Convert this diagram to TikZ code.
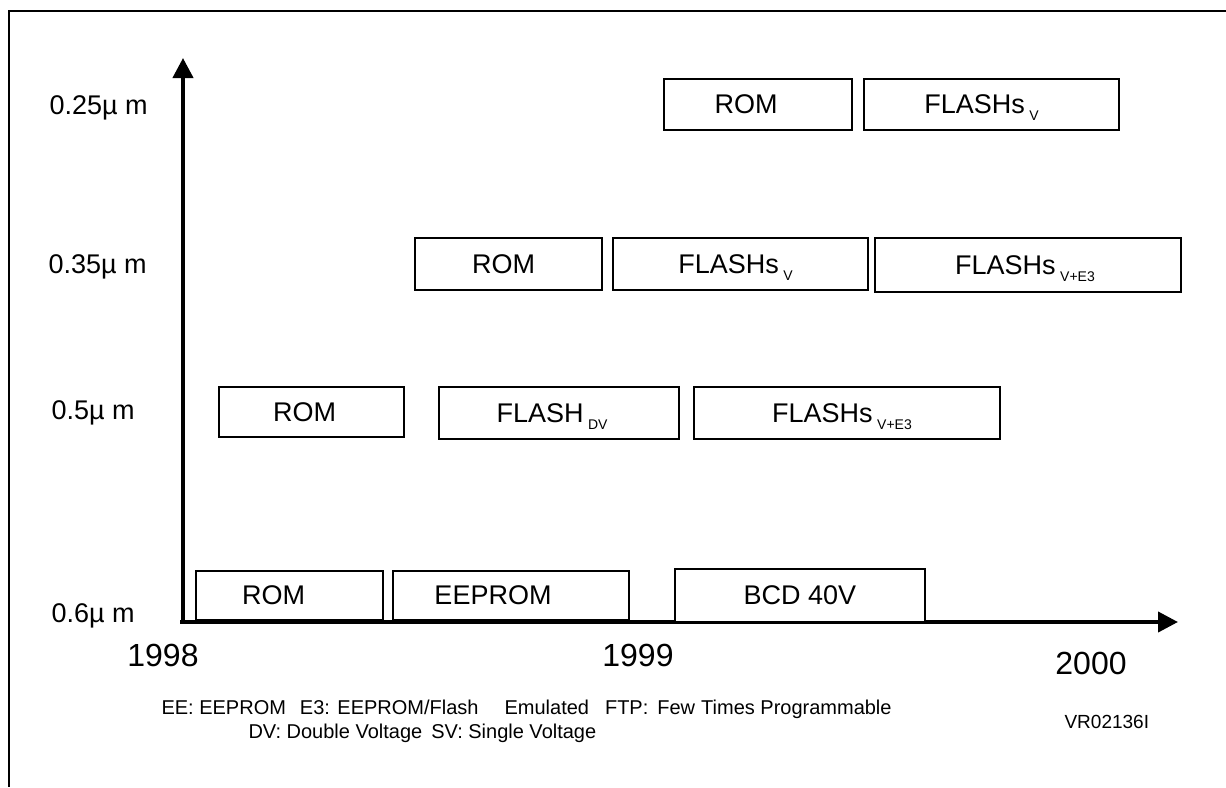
\documentclass[tikz,border=0pt]{standalone}
\usepackage{fontspec}
\setmainfont{Liberation Sans}
\usetikzlibrary{arrows.meta}
\tikzset{
  box/.style={draw, line width=1.3pt, rectangle, inner sep=0pt, fill=white},
  boxfont/.style={font=\fontsize{27}{30}\selectfont},
  axis/.style={line width=4pt, -{Triangle[length=20pt,width=20pt]}},
  frame/.style={line width=2pt},
  ylab/.style={anchor=west, font=\fontsize{27}{30}\selectfont},
  year/.style={font=\fontsize{32}{36}\selectfont},
  note/.style={anchor=west, font=\fontsize{20}{22}\selectfont},
}
\newcommand{\sub}[1]{\,\raisebox{-7pt}[0pt][0pt]{\fontsize{14}{14}\selectfont #1}}
\newcommand{\mkbox}[6]{% name, x1, x2, y1, y2, text
  \node[box, boxfont, minimum width=#3pt-#2pt, minimum height=#5pt-#4pt] (#1) at ({(#2+#3)/2},{(#4+#5)/2}) {#6};}
\begin{document}
\begin{tikzpicture}[x=1pt, y=-1pt]
\useasboundingbox (0,0) rectangle (1226,787);
% frame
\coordinate (ftl) at (9,11);
\coordinate (ftr) at (1226,11);
\coordinate (fbl) at (9,787);
\draw[frame] (ftr) -- (ftl) -- (fbl);
% axes
\coordinate (o) at (183,622);
\coordinate (ytip) at (183,58);
\coordinate (xs) at (180,622);
\coordinate (xtip) at (1178,622);
\draw[axis] (o) -- (ytip);
\draw[axis] (xs) -- (xtip);
% row 0.25
\mkbox{r1a}{664}{852}{79}{130}{ROM\kern24pt}
\mkbox{r1b}{864}{1119}{79}{130}{FLASHs\sub{V}\kern20pt}
% row 0.35
\mkbox{r2a}{415}{602}{238}{290}{ROM\kern10pt}
\mkbox{r2b}{613}{868}{238}{290}{FLASHs\sub{V}\kern10pt}
\mkbox{r2c}{875}{1181}{238}{292}{FLASHs\sub{V+E3}\kern6pt}
% row 0.5
\mkbox{r3a}{219}{404}{387}{437}{ROM\kern14pt}
\mkbox{r3b}{439}{679}{387}{439}{FLASH\sub{DV}\kern14pt}
\mkbox{r3c}{694}{1000}{387}{439}{FLASHs\sub{V+E3}\kern10pt}
% row 0.6
\mkbox{r4a}{196}{383}{571}{620}{ROM\kern32pt}
\mkbox{r4b}{393}{629}{571}{620}{EEPROM\kern36pt}
\mkbox{r4c}{675}{925}{569}{622}{BCD 40V}
% y labels
\node[ylab] (l25) at (46,108) {0.25µ m};
\node[ylab] (l35) at (45,267) {0.35µ m};
\node[ylab] (l5) at (48,413) {0.5µ m};
\node[ylab] (l6) at (48,616) {0.6µ m};
% years
\node[year] (y98) at (163,655) {1998};
\node[year] (y99) at (638,655) {1999};
\node[year] (y00) at (1091,663) {2000};
% notes
\node[note] (n1) at (158,709) {EE: EEPROM\hspace{14pt}E3: EEPROM/Flash\hspace{26pt}Emulated\hspace{16pt}FTP:\hspace{9pt}Few\hspace{6pt}Times Programmable};
\node[note] (n2) at (245,733) {DV: Double Voltage\hspace{9pt}SV: Single Voltage};
\node[note, font=\fontsize{19}{21}\selectfont] (vr) at (1061,722) {VR02136I};
\end{tikzpicture}
\end{document}
